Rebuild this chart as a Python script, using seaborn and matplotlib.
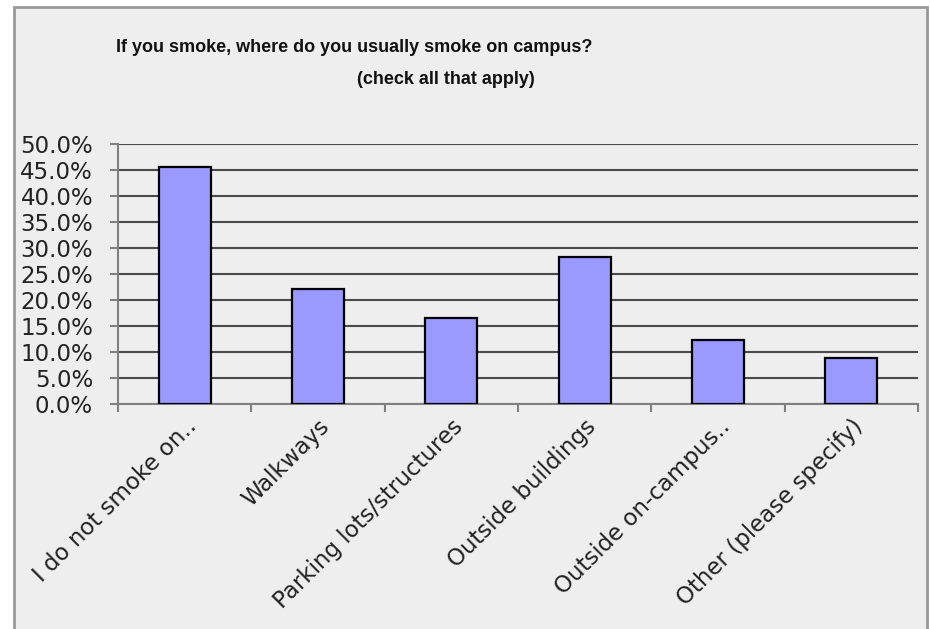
import pandas as pd
import matplotlib.pyplot as plt
import matplotlib.ticker as mticker
from matplotlib.patches import Rectangle
import seaborn as sns

# Where do smokers smoke on campus? (survey, check all that apply)
categories = ['I do not smoke on..', 'Walkways', 'Parking lots/structures',
              'Outside buildings', 'Outside on-campus..', 'Other (please specify)']
shares = [0.456, 0.221, 0.166, 0.283, 0.124, 0.089]

df = pd.DataFrame({'location': categories, 'share': shares})

sns.set_style('white')
plt.rcParams['font.family'] = ['DejaVu Sans']

fig = plt.figure(figsize=(9.3, 6.29), dpi=100, facecolor='white')

# chart area frame, drawn behind everything
fig.add_artist(Rectangle((14 / 930, -0.05), 913 / 930, 1.05 - 7 / 629,
                         transform=fig.transFigure, facecolor='#eeeeee',
                         edgecolor='#999999', linewidth=2, zorder=-10))

ax = fig.add_axes([118 / 930, 1 - 404 / 629, 800 / 930, 260 / 629])
ax.set_facecolor('#eeeeee')

sns.barplot(data=df, x='location', y='share', color='#9999ff', width=0.39,
            edgecolor='black', linewidth=1.6, saturation=1, ax=ax, zorder=3)

ax.set_ylim(0, 0.5)
ax.set_xlim(-0.5, len(categories) - 0.5)
ax.yaxis.set_major_locator(mticker.MultipleLocator(0.05))
ax.yaxis.set_major_formatter(mticker.PercentFormatter(1.0, decimals=1))
ax.grid(axis='y', color='#4a4a4a', linewidth=1.5, zorder=1)
ax.set_axisbelow(True)

for side in ['top', 'right']:
    ax.spines[side].set_visible(False)
for side in ['left', 'bottom']:
    ax.spines[side].set_color('#808080')
    ax.spines[side].set_linewidth(1.5)

ax.set_xlabel('')
ax.set_ylabel('')
ax.tick_params(axis='y', length=6, width=1.5, color='#808080', pad=12,
               labelsize=16.5, labelcolor='#222222', left=True)
# tick marks between categories, labels at category centres
ax.set_xticks([i - 0.5 for i in range(len(categories) + 1)], minor=True)
ax.tick_params(axis='x', which='minor', length=6, width=1.5, color='#808080', bottom=True)
ax.tick_params(axis='x', which='major', length=0, pad=8, labelsize=16.5, labelcolor='#222222')
plt.setp(ax.get_xticklabels(), rotation=45, ha='right', rotation_mode='anchor')

title_font = ['Liberation Sans', 'DejaVu Sans']
fig.text(354 / 930, 1 - 47 / 629, 'If you smoke, where do you usually smoke on campus?',
         ha='center', va='center', fontsize=13, fontweight='bold', family=title_font, color='#111111')
fig.text(446 / 930, 1 - 80 / 629, '(check all that apply)',
         ha='center', va='center', fontsize=13, fontweight='bold', family=title_font, color='#111111')

fig.savefig('out.png', dpi=100, facecolor='white')
